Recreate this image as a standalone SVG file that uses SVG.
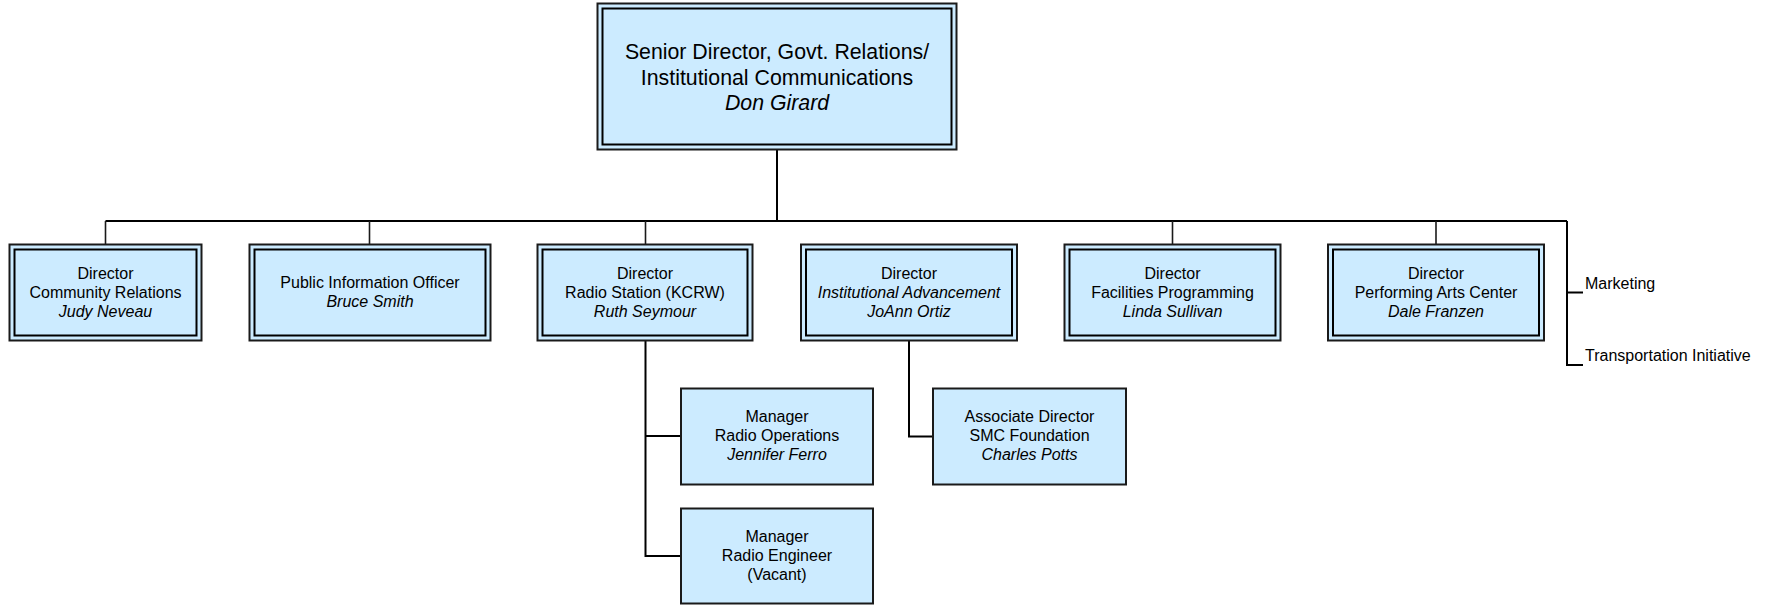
<svg xmlns="http://www.w3.org/2000/svg" width="1769" height="605" viewBox="0 0 1769 605">
  <style>
    .frame { fill: #CCEBFF; stroke: #1a1a1a; stroke-width: 2; }
    .inner { fill: none; stroke: #000; stroke-width: 2; }
    .plain { fill: #CCEBFF; stroke: #1a1a1a; stroke-width: 2; }
    .bus { fill: none; stroke: #000; stroke-width: 2; }
    .tick { fill: none; stroke: #1a1a1a; stroke-width: 1.6; }
    text { font-family: "Liberation Sans", Arial, sans-serif; font-size: 16px; fill: #000; }
    .c { text-anchor: middle; }
    .i { font-style: italic; }
    .big { font-size: 21.3px; }
  </style>
  <rect width="1769" height="605" fill="#fff"/>

  <!-- connectors -->
  <g id="connectors">
    <path class="bus" d="M777 150 V221"/>
    <path class="bus" d="M105.5 221 H1567"/>
    <path class="tick" d="M105.5 221 V244"/>
    <path class="tick" d="M369.5 221 V244"/>
    <path class="tick" d="M645.5 221 V244"/>
    <path class="tick" d="M1172.5 221 V244"/>
    <path class="tick" d="M1436 221 V244"/>
    <path class="bus" d="M1567 221 V365 H1583 M1567 292.5 H1583"/>
    <path class="bus" d="M645.5 341 V556 H681 M645.5 436 H681"/>
    <path class="bus" d="M909 341 V436.5 H933"/>
  </g>

  <!-- top -->
  <g id="senior-director">
    <rect class="frame" x="597.5" y="3.5" width="359" height="146"/>
    <rect class="inner" x="602.5" y="8.5" width="349" height="136"/>
    <text class="c big" x="777" y="59">Senior Director, Govt. Relations/</text>
    <text class="c big" x="777" y="84.5">Institutional Communications</text>
    <text class="c big i" x="777" y="110">Don Girard</text>
  </g>

  <!-- level 1 -->
  <g id="community-relations">
    <rect class="frame" x="9.5" y="244.5" width="192" height="96"/>
    <rect class="inner" x="14.5" y="249.5" width="182" height="86"/>
    <text class="c" x="105.5" y="279">Director</text>
    <text class="c" x="105.5" y="298">Community Relations</text>
    <text class="c i" x="105.5" y="317">Judy Neveau</text>
  </g>
  <g id="public-information">
    <rect class="frame" x="249.5" y="244.5" width="241" height="96"/>
    <rect class="inner" x="254.5" y="249.5" width="231" height="86"/>
    <text class="c" x="370" y="287.5">Public Information Officer</text>
    <text class="c i" x="370" y="306.5">Bruce Smith</text>
  </g>
  <g id="radio-station">
    <rect class="frame" x="537.5" y="244.5" width="215" height="96"/>
    <rect class="inner" x="542.5" y="249.5" width="205" height="86"/>
    <text class="c" x="645" y="279">Director</text>
    <text class="c" x="645" y="298">Radio Station (KCRW)</text>
    <text class="c i" x="645" y="317">Ruth Seymour</text>
  </g>
  <g id="institutional-advancement">
    <rect class="frame" x="801" y="244.5" width="216" height="96"/>
    <rect class="inner" x="806" y="249.5" width="206" height="86"/>
    <text class="c" x="909" y="279">Director</text>
    <text class="c i" x="909" y="298">Institutional Advancement</text>
    <text class="c i" x="909" y="317">JoAnn Ortiz</text>
  </g>
  <g id="facilities-programming">
    <rect class="frame" x="1064.5" y="244.5" width="216" height="96"/>
    <rect class="inner" x="1069.5" y="249.5" width="206" height="86"/>
    <text class="c" x="1172.5" y="279">Director</text>
    <text class="c" x="1172.5" y="298">Facilities Programming</text>
    <text class="c i" x="1172.5" y="317">Linda Sullivan</text>
  </g>
  <g id="performing-arts">
    <rect class="frame" x="1328" y="244.5" width="216" height="96"/>
    <rect class="inner" x="1333" y="249.5" width="206" height="86"/>
    <text class="c" x="1436" y="279">Director</text>
    <text class="c" x="1436" y="298">Performing Arts Center</text>
    <text class="c i" x="1436" y="317">Dale Franzen</text>
  </g>
  <g id="marketing">
    <text x="1585" y="288.5">Marketing</text>
  </g>
  <g id="transportation">
    <text x="1585" y="360.5">Transportation Initiative</text>
  </g>

  <!-- level 2 -->
  <g id="radio-operations">
    <rect class="plain" x="681" y="388.5" width="192" height="96"/>
    <text class="c" x="777" y="422">Manager</text>
    <text class="c" x="777" y="441">Radio Operations</text>
    <text class="c i" x="777" y="460">Jennifer Ferro</text>
  </g>
  <g id="radio-engineer">
    <rect class="plain" x="681" y="508.5" width="192" height="95"/>
    <text class="c" x="777" y="542">Manager</text>
    <text class="c" x="777" y="561">Radio Engineer</text>
    <text class="c" x="777" y="580">(Vacant)</text>
  </g>
  <g id="smc-foundation">
    <rect class="plain" x="933" y="388.5" width="193" height="96"/>
    <text class="c" x="1029.5" y="422">Associate Director</text>
    <text class="c" x="1029.5" y="441">SMC Foundation</text>
    <text class="c i" x="1029.5" y="460">Charles Potts</text>
  </g>
</svg>
